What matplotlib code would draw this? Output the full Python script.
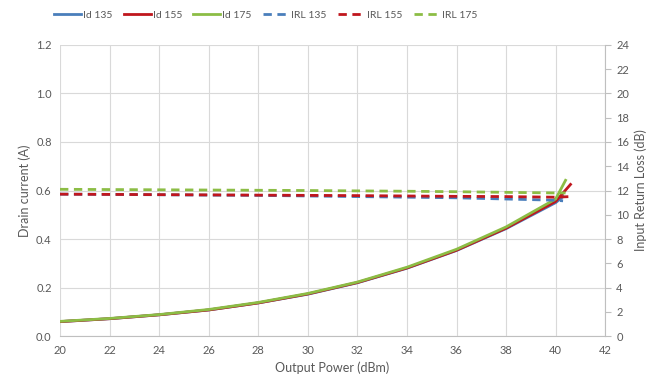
import matplotlib.pyplot as plt
import numpy as np

plt.rcParams['font.family'] = ['Lato', 'DejaVu Sans']

# output power (dBm)
pout_135 = [20, 22, 24, 26, 28, 30, 32, 34, 36, 38, 40, 40.3]
pout_155 = [20, 22, 24, 26, 28, 30, 32, 34, 36, 38, 40, 40.6]
pout_175 = [20, 22, 24, 26, 28, 30, 32, 34, 36, 38, 40, 40.4]

# drain current (A)
id_135 = [0.060, 0.072, 0.088, 0.108, 0.137, 0.173, 0.220, 0.280, 0.353, 0.443, 0.550, 0.575]
id_155 = [0.060, 0.072, 0.088, 0.108, 0.137, 0.174, 0.221, 0.281, 0.354, 0.445, 0.555, 0.625]
id_175 = [0.061, 0.073, 0.089, 0.110, 0.139, 0.176, 0.223, 0.284, 0.358, 0.450, 0.565, 0.642]

# input return loss (dB)
irl_135 = [11.7, 11.68, 11.65, 11.62, 11.6, 11.55, 11.5, 11.45, 11.4, 11.3, 11.2, 11.15]
irl_155 = [11.7, 11.68, 11.66, 11.64, 11.62, 11.6, 11.58, 11.55, 11.52, 11.5, 11.45, 11.5]
irl_175 = [12.1, 12.08, 12.06, 12.04, 12.02, 12.0, 11.97, 11.94, 11.9, 11.85, 11.8, 11.8]

blue = '#4a7ebb'
red = '#c0161d'
green = '#8cbd45'

fig = plt.figure(figsize=(6.49, 3.9), dpi=100)
ax = fig.add_axes([0.0925, 0.138, 0.84, 0.747])
ax2 = ax.twinx()

l1, = ax.plot(pout_135, id_135, color=blue, lw=2, label='Id 135')
l2, = ax.plot(pout_155, id_155, color=red, lw=2, label='Id 155')
l3, = ax.plot(pout_175, id_175, color=green, lw=2, label='Id 175')
l4, = ax2.plot(pout_135, irl_135, color=blue, lw=2, ls=(0, (3, 2)), label='IRL 135')
l5, = ax2.plot(pout_155, irl_155, color=red, lw=2, ls=(0, (3, 2)), label='IRL 155')
l6, = ax2.plot(pout_175, irl_175, color=green, lw=2, ls=(0, (3, 2)), label='IRL 175')

ax.set_xlim(20, 42)
ax.set_ylim(0, 1.2)
ax2.set_ylim(0, 24)
ax.set_xticks(np.arange(20, 43, 2))
ax.set_yticks(np.arange(0, 1.21, 0.2))
ax.set_yticklabels(['%.1f' % v for v in np.arange(0, 1.21, 0.2)])
ax2.set_yticks(np.arange(0, 25, 2))

ax.grid(True, color='#d9d9d9', lw=0.8)
ax.set_axisbelow(True)
for s in ['top', 'left', 'right']:
    ax.spines[s].set_visible(False)
ax.spines['bottom'].set_color('#bfbfbf')
for s in ['top', 'left', 'bottom']:
    ax2.spines[s].set_visible(False)
ax2.spines['right'].set_color('#bfbfbf')

ax.tick_params(axis='both', length=0, labelsize=8, colors='#595959', pad=6)
ax2.tick_params(axis='y', length=4, color='#bfbfbf', labelsize=8, labelcolor='#595959', pad=4)

ax.set_xlabel('Output Power (dBm)', fontsize=9, color='#595959')
ax.set_ylabel('Drain current (A)', fontsize=9, color='#595959')
ax2.set_ylabel('Input Return Loss (dB)', fontsize=9, color='#595959')

fig.legend(handles=[l1, l2, l3, l4, l5, l6], loc='upper center', ncol=6,
           bbox_to_anchor=(0.41, 1.0), frameon=False, fontsize=7.5,
           labelcolor='#595959', handlelength=2.6, handletextpad=0.15,
           columnspacing=1.1, borderaxespad=0.6)

fig.savefig('out.png', dpi=100)
